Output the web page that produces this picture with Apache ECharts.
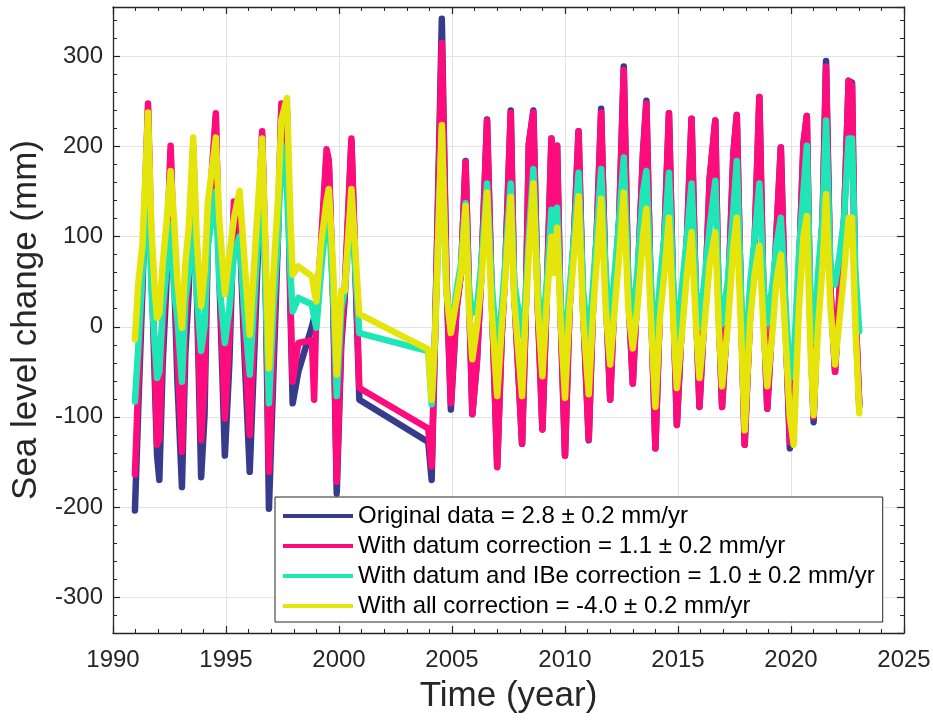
<!DOCTYPE html>
<html>
<head>
<meta charset="utf-8">
<script src="https://cdn.jsdelivr.net/npm/echarts@6/dist/echarts.min.js"></script>
<style>html,body{margin:0;padding:0;background:#fff}#c{width:933px;height:722px}</style>
</head>
<body>
<div id="c"></div>
<script>
var seriesNames = [
  'Original data = 2.8 \u00b1 0.2 mm/yr',
  'With datum correction = 1.1 \u00b1 0.2 mm/yr',
  'With datum and IBe correction = 1.0 \u00b1 0.2 mm/yr',
  'With all correction = -4.0 \u00b1 0.2 mm/yr'
];
var xTicks = [1990, 1995, 2000, 2005, 2010, 2015, 2020, 2025];
var yTicks = [-300, -200, -100, 0, 100, 200, 300];

var times = [
  1990.97,1991.12,1991.3,1991.55,1991.7,1991.85,1991.95,1992.05,1992.2,1992.35,1992.55,1992.7,1992.85,
  1993.05,1993.2,1993.35,1993.55,1993.7,1993.9,1994.05,1994.2,1994.55,1994.7,1994.95,
  1995.15,1995.35,1995.6,1995.8,1996.05,1996.25,1996.6,1996.75,1996.9,
  1997.1,1997.3,1997.45,1997.7,1997.85,1997.95,1998.2,1998.8,1998.9,
  1999.0,1999.2,1999.45,1999.55,1999.75,1999.9,2000.1,2000.25,2000.55,2000.9,
  2003.95,2004.1,2004.25,2004.55,2004.75,2004.95,
  2005.2,2005.4,2005.6,2005.75,2005.9,2006.1,2006.3,2006.55,2006.75,
  2007.0,2007.2,2007.35,2007.6,2007.75,2008.1,2008.25,2008.4,2008.6,2008.8,
  2009.0,2009.2,2009.4,2009.5,2009.65,2009.8,2010.0,2010.2,2010.4,2010.6,2010.8,
  2011.05,2011.25,2011.4,2011.6,2011.8,2012.0,2012.2,2012.4,2012.6,2012.8,
  2013.0,2013.2,2013.45,2013.6,2013.8,2014.0,2014.2,2014.4,2014.6,2014.8,
  2014.95,2015.2,2015.4,2015.6,2015.8,2015.95,2016.2,2016.4,2016.65,2016.8,
  2016.95,2017.2,2017.45,2017.6,2017.8,2017.95,2018.2,2018.4,2018.6,2018.8,
  2018.95,2019.2,2019.35,2019.55,2019.75,2019.95,2020.12,2020.35,2020.55,2020.7,2020.85,
  2021.0,2021.2,2021.4,2021.55,2021.75,2021.95,2022.15,2022.35,2022.55,2022.7,2022.85,2023.02
];
var original = [
  -204,-90,40,240,70,-60,-143,-170,-40,40,195,60,-60,
  -178,-30,40,195,50,-167,-98,100,232,60,-143,
  -40,130,110,-20,-161,-30,212,60,-202,
  -50,100,244,236,20,-85,-50,0,10,
  20,80,190,180,20,-185,-20,30,205,-81,
  -128,-170,-10,342,60,-92,
  20,60,184,40,-97,-40,60,230,40,
  -155,-10,60,240,40,-130,0,203,240,20,
  -114,40,209,120,201,20,-143,20,100,217,20,
  -126,30,100,242,40,-81,40,120,289,40,
  -63,40,192,251,30,-135,20,100,237,20,
  -109,20,100,231,20,-89,30,164,229,20,
  -89,20,192,235,10,-131,20,100,255,10,
  -91,20,100,199,10,-135,-100,60,203,234,10,
  -106,30,120,295,40,-50,40,120,273,271,20,-88
];
var datum = [
  -164,-62,60,248,90,-40,-131,-125,-10,60,201,80,-30,
  -139,0,60,200,60,-126,-60,110,237,70,-102,
  -10,139,120,0,-120,0,217,70,-161,
  -20,110,248,240,30,-61,-18,-15,-81,
  20,90,197,185,30,-172,-10,40,209,-68,
  -113,-155,-10,315,60,-85,
  20,60,183,40,-97,-40,60,229,40,
  -156,-10,60,238,40,-130,0,203,238,20,
  -114,40,209,120,201,20,-143,20,100,217,20,
  -125,30,100,238,40,-81,40,120,285,40,
  -63,40,192,248,30,-135,20,100,237,20,
  -109,20,100,231,20,-89,30,164,229,20,
  -89,20,192,235,10,-131,20,100,255,10,
  -91,20,100,199,10,-128,-100,60,203,234,10,
  -100,30,120,289,40,-50,40,120,273,268,20,-85
];
var datumIBe = [
  -83,-22,60,170,40,-20,-57,-50,20,60,114,40,10,
  -61,30,60,130,40,-27,0,90,150,50,-18,
  20,80,100,20,-53,30,170,40,-85,
  20,100,203,150,60,17,32,25,10,
  -1,60,127,125,30,-77,20,40,129,-7,
  -27,-86,-10,220,40,-5,
  40,70,137,40,15,20,70,159,50,
  -30,20,70,159,50,-10,30,100,175,40,
  -10,50,130,80,132,30,-30,40,100,171,40,
  -20,50,100,175,60,0,60,120,188,50,
  10,60,150,173,50,-30,50,100,171,40,
  -16,50,100,159,40,-1,60,110,162,40,
  3,50,130,184,30,-48,50,100,159,40,
  4,50,90,121,30,-57,-40,80,150,201,40,
  -16,60,120,229,60,47,80,120,209,209,60,-5
];
var allCorr = [
  -14,49,90,238,110,40,10,15,70,110,173,120,50,
  -1,70,110,210,100,23,60,138,210,120,36,
  80,120,151,80,-9,70,209,90,-46,
  60,140,230,254,120,58,67,56,40,
  28,90,140,153,60,-53,40,40,153,14,
  -25,-81,-10,224,40,-7,
  30,60,134,20,-36,0,50,149,20,
  -77,0,50,144,30,-77,10,80,159,20,
  -55,30,100,60,110,10,-79,20,80,145,10,
  -75,20,70,142,20,-42,20,80,149,20,
  -24,20,100,131,10,-89,10,60,121,0,
  -68,0,60,105,0,-57,10,70,105,0,
  -66,0,90,121,-10,-115,10,60,90,-10,
  -66,0,50,80,-10,-100,-131,20,100,123,-20,
  -98,0,70,147,20,-42,10,60,121,121,0,-96
];

var colors = ['#363b8c', '#fe0b7e', '#1fe6b5', '#e5e50c'];
var valueSets = [original, datum, datumIBe, allCorr];

function pairs(vals) {
  var out = [];
  for (var i = 0; i < times.length; i++) out.push([times[i], vals[i]]);
  return out;
}

var FONT = 'Liberation Sans, Arial, sans-serif';
var AX = '#262626';

var series = valueSets.map(function (vals, i) {
  return {
    name: seriesNames[i],
    type: 'line',
    data: pairs(vals),
    showSymbol: false,
    symbol: 'none',
    color: colors[i],
    lineStyle: { color: colors[i], width: 6.5, cap: 'round', join: 'round' },
    z: 2 + i,
    xAxisIndex: 0,
    yAxisIndex: 0
  };
});

var yMin = -340, yMax = 355;

var option = {
  animation: false,
  backgroundColor: '#fff',
  grid: { left: 113, right: 29, top: 7, bottom: 89, containLabel: false, outerBoundsMode: 'none' },
  legend: {
    orient: 'vertical',
    left: 275,
    top: 497,
    padding: [4, 8, 1, 8],
    itemGap: 0,
    itemWidth: 70,
    itemHeight: 4,
    icon: 'rect',
    backgroundColor: '#fff',
    borderColor: AX,
    borderWidth: 1,
    borderRadius: 0,
    textStyle: { fontFamily: FONT, fontSize: 24, color: '#000', lineHeight: 30 },
    data: seriesNames
  },
  xAxis: [
    {
      type: 'value', position: 'bottom', min: xTicks[0], max: xTicks[xTicks.length - 1], interval: 5,
      name: 'Time (year)', nameLocation: 'middle', nameGap: 46,
      nameTextStyle: { fontFamily: FONT, fontSize: 35, color: AX },
      axisLine: { show: true, onZero: false, lineStyle: { color: AX, width: 1.3 } },
      axisTick: { show: true, inside: true, length: 7, lineStyle: { color: AX, width: 1.2 } },
      minorTick: { show: true, splitNumber: 5, length: 4, lineStyle: { color: AX, width: 1 } },
      axisLabel: { show: true, margin: 15, fontFamily: FONT, fontSize: 24, color: AX,
        formatter: function (v) { return xTicks.indexOf(v) >= 0 ? String(v) : ''; } },
      splitLine: { show: true, lineStyle: { color: '#e3e3e3', width: 1 } },
      minorSplitLine: { show: false }
    },
    {
      type: 'value', position: 'top', min: xTicks[0], max: xTicks[xTicks.length - 1], interval: 5,
      axisLine: { show: true, onZero: false, lineStyle: { color: AX, width: 1.3 } },
      axisTick: { show: true, inside: true, length: 7, lineStyle: { color: AX, width: 1.2 } },
      minorTick: { show: true, splitNumber: 5, length: 4, lineStyle: { color: AX, width: 1 } },
      axisLabel: { show: false },
      splitLine: { show: false }
    }
  ],
  yAxis: [
    {
      type: 'value', position: 'left', min: yMin, max: yMax, splitNumber: 5,
      name: 'Sea level change (mm)', nameLocation: 'middle', nameGap: 64,
      nameTextStyle: { fontFamily: FONT, fontSize: 35, color: AX },
      axisLine: { show: true, onZero: false, lineStyle: { color: AX, width: 1.3 } },
      axisTick: { show: true, inside: true, length: 7, lineStyle: { color: AX, width: 1.2 } },
      axisLabel: { show: true, margin: 10, fontFamily: FONT, fontSize: 24, color: AX,
        showMinLabel: false, showMaxLabel: false,
        formatter: function (v) { return yTicks.indexOf(v) >= 0 ? String(v) : ''; } },
      splitLine: { show: true, lineStyle: { color: '#e3e3e3', width: 1 } }
    },
    {
      type: 'value', position: 'right', min: yMin, max: yMax, splitNumber: 5,
      axisLine: { show: true, onZero: false, lineStyle: { color: AX, width: 1.3 } },
      axisTick: { show: true, inside: true, length: 7, lineStyle: { color: AX, width: 1.2 } },
      axisLabel: { show: false },
      splitLine: { show: false }
    },
    {
      type: 'value', position: 'left', min: yMin, max: yMax, interval: 20,
      axisLine: { show: false, onZero: false },
      axisTick: { show: true, inside: true, length: 4, lineStyle: { color: AX, width: 1 } },
      axisLabel: { show: false },
      splitLine: { show: false }
    },
    {
      type: 'value', position: 'right', min: yMin, max: yMax, interval: 20,
      axisLine: { show: false, onZero: false },
      axisTick: { show: true, inside: true, length: 4, lineStyle: { color: AX, width: 1 } },
      axisLabel: { show: false },
      splitLine: { show: false }
    }
  ],
  series: series
};

var chart = echarts.init(document.getElementById('c'), null, { renderer: 'canvas' });
chart.setOption(option);
</script>
</body>
</html>
